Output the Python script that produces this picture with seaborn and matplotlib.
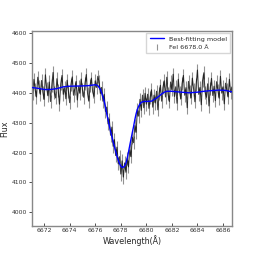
import numpy as np
import pandas as pd
import matplotlib
matplotlib.use("Agg")
import matplotlib.pyplot as plt
import seaborn as sns

wave_start, wave_end = 6671.0, 6686.7
flux = [
    4432, 4398, 4445, 4410, 4386, 4452, 4420, 4395, 4441, 4402,
    4378, 4460, 4415, 4390, 4436, 4371, 4425, 4468, 4400, 4383,
    4447, 4409, 4362, 4430, 4458, 4395, 4417, 4380, 4442, 4405,
    4367, 4428, 4453, 4392, 4414, 4438, 4376, 4421, 4399, 4446,
    4410, 4385, 4432, 4461, 4397, 4372, 4425, 4449, 4403, 4388,
    4440, 4418, 4455,
    4436, 4398, 4418, 4372, 4395, 4338, 4352, 4296, 4312, 4258,
    4285, 4221, 4243, 4190, 4218, 4162, 4186, 4128, 4172, 4118,
    4165, 4134, 4181, 4152, 4209, 4186, 4251, 4233, 4290, 4268,
    4345, 4322, 4378, 4341, 4392, 4350, 4398, 4362,
    4395, 4348, 4385, 4410, 4352, 4392, 4366, 4405, 4343, 4398,
    4425, 4372, 4418, 4440, 4386, 4452, 4397, 4371, 4436, 4410,
    4462, 4388, 4420, 4365, 4445, 4402, 4380, 4431, 4458, 4392,
    4417, 4350, 4438, 4405, 4383, 4449, 4412, 4370, 4428, 4476,
    4395, 4418, 4360, 4441, 4467, 4402, 4385, 4430, 4356, 4415,
    4448, 4391, 4422, 4374, 4437, 4408, 4382, 4455, 4399, 4420,
    4363, 4432, 4410, 4386, 4445, 4401, 4418,
]
flux_err = 22

# Best-fitting model
model_wave = [6671.0, 6671.5, 6672.0, 6672.5, 6673.0, 6673.5, 6674.0, 6675.0,
              6675.5, 6676.0, 6676.2, 6676.4, 6676.5, 6676.6, 6676.7, 6676.8,
              6676.9, 6677.0, 6677.1, 6677.2, 6677.3, 6677.4, 6677.5, 6677.6,
              6677.7, 6677.8, 6677.9, 6678.0, 6678.1, 6678.2, 6678.3, 6678.4,
              6678.5, 6678.6, 6678.7, 6678.8, 6678.9, 6679.0, 6679.1, 6679.2,
              6679.3, 6679.4, 6679.5, 6679.6, 6679.8, 6680.0, 6680.4, 6680.8,
              6681.0, 6681.2, 6681.4, 6681.6, 6682.0, 6682.5, 6683.3, 6684.0,
              6684.5, 6685.0, 6685.7, 6686.2, 6686.7]
model_flux = [4418, 4415, 4411, 4411, 4414, 4420, 4422, 4423,
              4424, 4427, 4424, 4412, 4400, 4387, 4372, 4352,
              4330, 4310, 4290, 4271, 4253, 4236, 4220, 4204,
              4188, 4175, 4163, 4155, 4150, 4151, 4155, 4164,
              4180, 4201, 4223, 4245, 4266, 4287, 4310, 4330,
              4345, 4355, 4363, 4368, 4371, 4371, 4372, 4382,
              4389, 4396, 4402, 4405, 4405, 4403, 4400, 4402,
              4405, 4407, 4409, 4408, 4403]

wave = np.linspace(wave_start, wave_end, len(flux))
obs = pd.DataFrame({"wave": wave, "flux": flux})
mod = pd.DataFrame({"wave": model_wave, "flux": model_flux})

sns.set_style("ticks")
plt.rcParams['font.family'] = ['DejaVu Sans']

fig = plt.figure(figsize=(2.58, 2.58), dpi=100)
ax = fig.add_axes([0.124, 0.124, 0.775, 0.756])

ax.errorbar(obs["wave"], obs["flux"], yerr=flux_err, fmt='none',
            ecolor='#777777', elinewidth=0.8, alpha=0.8,
            label="FeI 6678.0 Å", zorder=2)
ax.plot(obs["wave"], obs["flux"], color='black', lw=0.8, alpha=0.75, zorder=2)
sns.lineplot(data=mod, x="wave", y="flux", color='blue', lw=1.0,
             label="Best-fitting model", ax=ax, zorder=3)

ax.set_xlim(6671.05, 6686.7)
ax.set_ylim(3954, 4607)
ax.set_xticks([6672, 6674, 6676, 6678, 6680, 6682, 6684, 6686])
ax.set_yticks([4000, 4100, 4200, 4300, 4400, 4500, 4600])
ax.set_xlabel("Wavelength(Å)", fontsize=5.8, labelpad=1.5)
ax.set_ylabel("Flux", fontsize=5.8, labelpad=2)
ax.tick_params(labelsize=4.4, length=2, width=0.6, pad=1.5, colors='#333333')
ax.tick_params(axis='x', direction='in')
for s in ax.spines.values():
    s.set_color('#888888')
    s.set_linewidth(1.0)

handles, labels = ax.get_legend_handles_labels()
order = [labels.index("Best-fitting model"), labels.index("FeI 6678.0 Å")]
ax.legend([handles[i] for i in order], [labels[i] for i in order],
          loc='upper right', fontsize=4.6, frameon=True, fancybox=False,
          edgecolor='#cccccc', borderpad=0.5, handlelength=2.2,
          borderaxespad=0.3)

fig.savefig("out.png", dpi=100)
